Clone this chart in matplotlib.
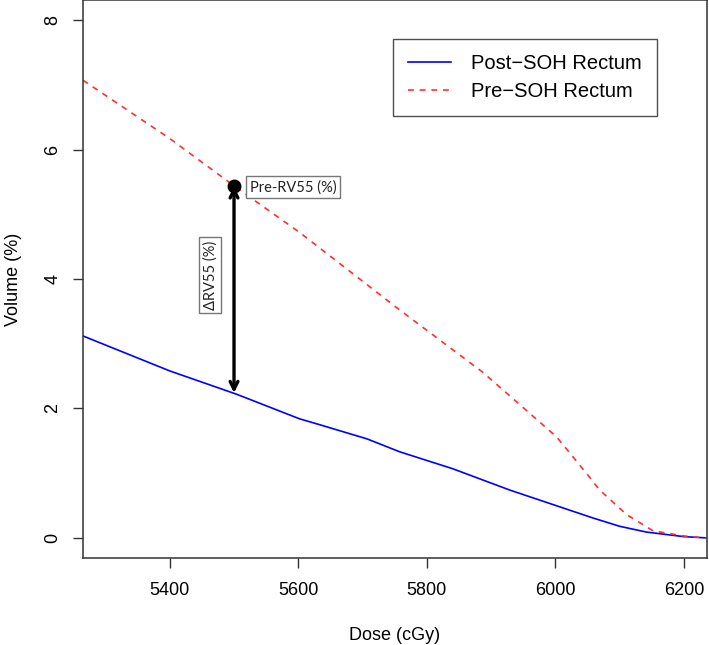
import matplotlib.pyplot as plt
from matplotlib.lines import Line2D

# dose (cGy) and volume (%)
post_dose = [5265, 5400, 5504, 5602, 5633, 5707, 5758, 5840, 5929, 6007, 6058, 6100, 6142, 6200, 6236]
post_vol = [3.12, 2.58, 2.22, 1.84, 1.75, 1.53, 1.33, 1.07, 0.74, 0.48, 0.31, 0.18, 0.09, 0.02, 0.0]

pre_dose = [5265, 5400, 5504, 5602, 5758, 5887, 5940, 6002, 6054, 6069, 6111, 6152, 6200, 6236]
pre_vol = [7.07, 6.17, 5.41, 4.72, 3.52, 2.56, 2.10, 1.56, 0.93, 0.74, 0.36, 0.11, 0.03, 0.0]

rv55_dose = 5500
rv55_pre = 5.43
rv55_post = 2.24

plt.rcParams['font.family'] = ['Liberation Sans', 'DejaVu Sans']

fig = plt.figure(figsize=(7.09, 6.45), dpi=100)
ax = fig.add_axes([83 / 709, (645 - 558) / 645, 624 / 709, 558 / 645])

ax.plot(post_dose, post_vol, color='#0000FF', lw=1.2)
ax.plot(pre_dose, pre_vol, color='#FF3030', lw=1.2, ls=(0, (3.5, 3.5)))

# RV55 marker and difference arrow
ax.plot([rv55_dose], [rv55_pre], 'o', color='black', ms=9)
ax.annotate('', xy=(rv55_dose, rv55_post), xytext=(rv55_dose, rv55_pre),
            arrowprops=dict(arrowstyle='<->', color='black', lw=2.4,
                            mutation_scale=14, shrinkA=0, shrinkB=0))
box = dict(boxstyle='square,pad=0.25', fc='white', ec='#777777', lw=1)
ax.text(5525, 5.42, 'Pre-RV55 (%)', family=['Lato', 'DejaVu Sans'], fontsize=10.5,
        ha='left', va='center', bbox=box, color='#222222')
ax.text(5463, 4.06, '\u0394RV55 (%)', family=['Lato', 'DejaVu Sans'], fontsize=10.5,
        ha='center', va='center', rotation=90, bbox=box, color='#222222')

ax.set_xlim(5265, 6236)
ax.set_ylim(-0.31, 8.31)
ax.set_xticks([5400, 5600, 5800, 6000, 6200])
ax.set_yticks([0, 2, 4, 6, 8])
ax.tick_params(direction='out', length=7.5, width=1, labelsize=13, color='#333333')
ax.tick_params(axis='x', pad=10)
ax.tick_params(axis='y', pad=8)
for lab in ax.get_yticklabels():
    lab.set_rotation(90)
    lab.set_va('center')
for sp in ax.spines.values():
    sp.set_linewidth(1.1)
    sp.set_color('#333333')

ax.set_xlabel('Dose (cGy)', fontsize=13, labelpad=20)
ax.set_ylabel('Volume (%)', fontsize=13, labelpad=16)

handles = [Line2D([], [], color='#0000FF', lw=1.2),
           Line2D([], [], color='#FF3030', lw=1.2, ls=(0, (3.5, 3.5)))]
leg = ax.legend(handles, ['Post\u2212SOH Rectum', 'Pre\u2212SOH Rectum'],
                loc='upper left', bbox_to_anchor=(0.497, 0.93), fontsize=14.5,
                frameon=True, fancybox=False, edgecolor='#222222',
                handlelength=2.1, handletextpad=1.0, borderpad=0.75,
                labelspacing=0.45, borderaxespad=0)
leg.get_frame().set_linewidth(1)

fig.savefig('out.png', dpi=100)
